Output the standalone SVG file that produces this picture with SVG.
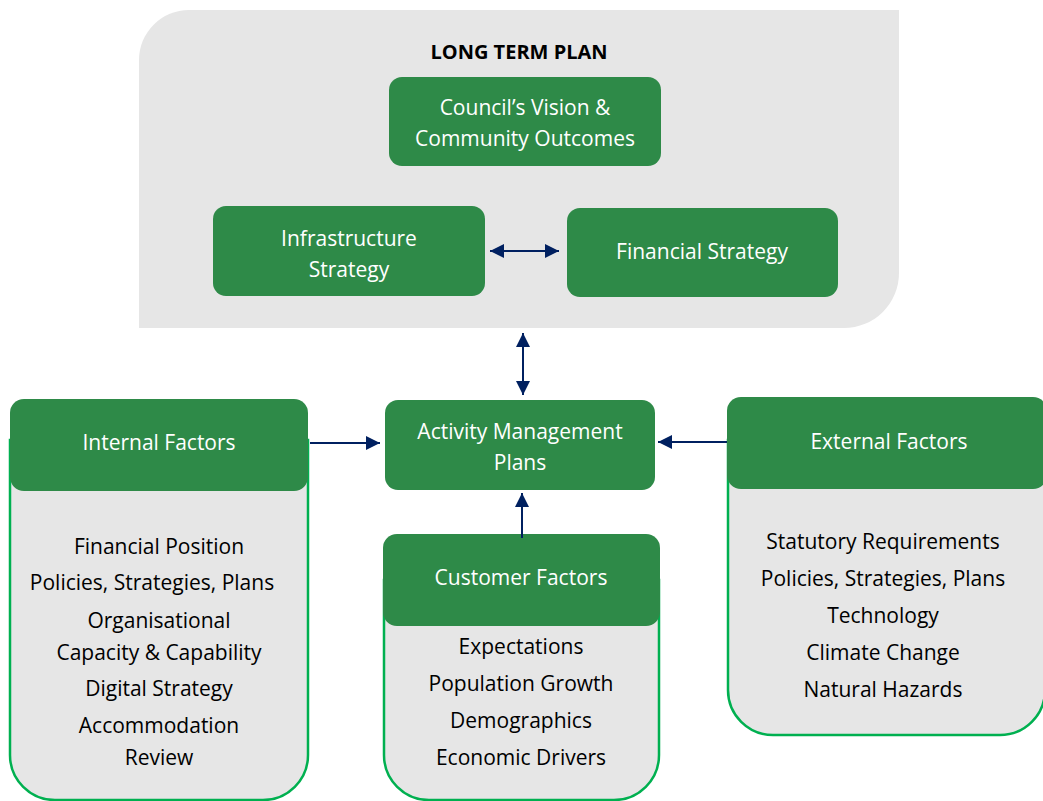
<svg xmlns="http://www.w3.org/2000/svg" width="1043" height="801" viewBox="0 0 1043 801">
<defs>
<style>
.g{fill:#2E8A48;}
.body{fill:#E6E6E6;stroke:#00B050;stroke-width:2.5;}
.wt{font-family:"Open Sans","Liberation Sans",sans-serif;font-size:21px;fill:#FFFFFF;text-anchor:middle;}
.bt{font-family:"Open Sans","Liberation Sans",sans-serif;font-size:21px;fill:#000000;text-anchor:middle;}
.ttl{font-family:"Open Sans","Liberation Sans",sans-serif;font-size:20px;font-weight:bold;fill:#000000;text-anchor:middle;}
.c{stroke:#002060;stroke-width:2;fill:none;}
</style>
<marker id="ah" viewBox="0 0 10 10" refX="10" refY="5" markerWidth="7" markerHeight="7" markerUnits="strokeWidth" orient="auto-start-reverse">
<path d="M0,0 L10,5 L0,10 Z" fill="#002060"/>
</marker>
</defs>
<rect width="1043" height="801" fill="#FFFFFF"/>
<g id="long-term-plan">
<path d="M189,10 H899 V273 A55,55 0 0 1 844,328 H139 V60 A50,50 0 0 1 189,10 Z" fill="#E6E6E6"/>
<text class="ttl" x="519" y="59">LONG TERM PLAN</text>
</g>
<g id="councils-vision">
<rect class="g" x="389" y="77" width="272" height="89" rx="13"/>
<text class="wt" x="525" y="115">Council’s Vision &amp;</text>
<text class="wt" x="525" y="146">Community Outcomes</text>
</g>
<g id="infrastructure-strategy">
<rect class="g" x="213" y="206" width="272" height="90" rx="13"/>
<text class="wt" x="349" y="246">Infrastructure</text>
<text class="wt" x="349" y="277">Strategy</text>
</g>
<g id="financial-strategy">
<rect class="g" x="567" y="208" width="271" height="89" rx="13"/>
<text class="wt" x="702" y="259">Financial Strategy</text>
</g>
<g id="activity-management-plans">
<rect class="g" x="385" y="400" width="270" height="90" rx="13"/>
<text class="wt" x="520" y="439">Activity Management</text>
<text class="wt" x="520" y="470">Plans</text>
</g>
<g id="internal-factors">
<path class="body" d="M10,440 H308 V755 A45,45 0 0 1 263,800 H55 A45,45 0 0 1 10,755 Z"/>
<rect class="g" x="10" y="399" width="298" height="92" rx="14"/>
<text class="wt" x="159" y="450">Internal Factors</text>
<text class="bt" x="159" y="554">Financial Position</text>
<text class="bt" x="152" y="590">Policies, Strategies, Plans</text>
<text class="bt" x="159" y="628">Organisational</text>
<text class="bt" x="159" y="660">Capacity &amp; Capability</text>
<text class="bt" x="159" y="696">Digital Strategy</text>
<text class="bt" x="159" y="733">Accommodation</text>
<text class="bt" x="159" y="765">Review</text>
</g>
<g id="customer-factors">
<path class="body" d="M384,580 H659 V755 A45,45 0 0 1 614,800 H429 A45,45 0 0 1 384,755 Z"/>
<rect class="g" x="383" y="534" width="277" height="92" rx="14"/>
<text class="wt" x="521" y="585">Customer Factors</text>
<text class="bt" x="521" y="654">Expectations</text>
<text class="bt" x="521" y="691">Population Growth</text>
<text class="bt" x="521" y="728">Demographics</text>
<text class="bt" x="521" y="765">Economic Drivers</text>
</g>
<g id="external-factors">
<path class="body" d="M728,440 H1045 V690 A45,45 0 0 1 1000,735 H773 A45,45 0 0 1 728,690 Z"/>
<rect class="g" x="727" y="397" width="320" height="92" rx="14"/>
<text class="wt" x="889" y="449">External Factors</text>
<text class="bt" x="883" y="549">Statutory Requirements</text>
<text class="bt" x="883" y="586">Policies, Strategies, Plans</text>
<text class="bt" x="883" y="623">Technology</text>
<text class="bt" x="883" y="660">Climate Change</text>
<text class="bt" x="883" y="697">Natural Hazards</text>
</g>
<g id="connectors">
<line class="c" x1="490" y1="251" x2="559" y2="251" marker-start="url(#ah)" marker-end="url(#ah)"/>
<line class="c" x1="523" y1="333" x2="523" y2="395" marker-start="url(#ah)" marker-end="url(#ah)"/>
<line class="c" x1="310" y1="443" x2="380" y2="443" marker-end="url(#ah)"/>
<line class="c" x1="727" y1="442" x2="658" y2="442" marker-end="url(#ah)"/>
<line class="c" x1="522" y1="538" x2="522" y2="493" marker-end="url(#ah)"/>
</g>
</svg>
